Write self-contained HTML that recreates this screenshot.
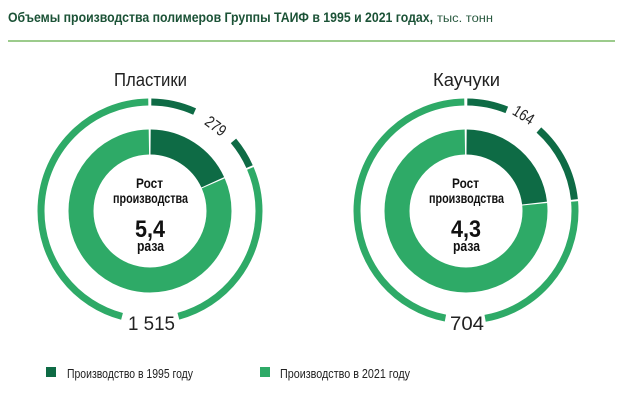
<!DOCTYPE html>
<html><head><meta charset="utf-8"><style>
html,body{margin:0;padding:0;background:#fff;}
body{width:620px;height:400px;overflow:hidden;font-family:"Liberation Sans",sans-serif;}
</style></head><body>
<svg width="620" height="400" viewBox="0 0 620 400" xmlns="http://www.w3.org/2000/svg" font-family="'Liberation Sans',sans-serif">
<text x="8" y="22" font-size="14" font-weight="bold" fill="#1b5236" textLength="425" lengthAdjust="spacingAndGlyphs">Объемы производства полимеров Группы ТАИФ в 1995 и 2021 годах,</text>
<text x="437" y="22" font-size="12" fill="#2a5a40" textLength="56" lengthAdjust="spacingAndGlyphs">тыс. тонн</text>
<rect x="8" y="40" width="607" height="2" fill="#9ccb8c"/>

<text x="114" y="86" font-size="18" fill="#222" textLength="73" lengthAdjust="spacingAndGlyphs">Пластики</text>
<text x="433" y="86" font-size="18" fill="#222" textLength="67" lengthAdjust="spacingAndGlyphs">Каучуки</text>

<g transform="translate(150,211) rotate(-90)" fill="none">
 <circle r="69" stroke="#0e6b45" stroke-width="25" pathLength="360" stroke-dasharray="65 400" stroke-dashoffset="-0.5"/>
 <circle r="69" stroke="#2eaa67" stroke-width="25" pathLength="360" stroke-dasharray="293 400" stroke-dashoffset="-66.5"/>
 <circle r="109" stroke="#0e6b45" stroke-width="7" pathLength="360" stroke-dasharray="23.5 400" stroke-dashoffset="-0.7"/>
 <circle r="109" stroke="#0e6b45" stroke-width="7" pathLength="360" stroke-dasharray="16 400" stroke-dashoffset="-50"/>
 <circle r="109" stroke="#2eaa67" stroke-width="7" pathLength="360" stroke-dasharray="98 400" stroke-dashoffset="-67"/>
 <circle r="109" stroke="#2eaa67" stroke-width="7" pathLength="360" stroke-dasharray="164.3 400" stroke-dashoffset="-195"/>
</g>
<g transform="translate(466,211) rotate(-90)" fill="none">
 <circle r="69" stroke="#0e6b45" stroke-width="25" pathLength="360" stroke-dasharray="83 400" stroke-dashoffset="-0.5"/>
 <circle r="69" stroke="#2eaa67" stroke-width="25" pathLength="360" stroke-dasharray="275 400" stroke-dashoffset="-84.5"/>
 <circle r="109" stroke="#0e6b45" stroke-width="7" pathLength="360" stroke-dasharray="21.3 400" stroke-dashoffset="-0.7"/>
 <circle r="109" stroke="#0e6b45" stroke-width="7" pathLength="360" stroke-dasharray="42 400" stroke-dashoffset="-42"/>
 <circle r="109" stroke="#2eaa67" stroke-width="7" pathLength="360" stroke-dasharray="85 400" stroke-dashoffset="-85"/>
 <circle r="109" stroke="#2eaa67" stroke-width="7" pathLength="360" stroke-dasharray="168.3 400" stroke-dashoffset="-191"/>
</g>

<text transform="translate(215,127) rotate(37)" font-size="16" text-anchor="middle" dominant-baseline="middle" fill="#222" textLength="22" lengthAdjust="spacingAndGlyphs">279</text>
<text transform="translate(523,116) rotate(32)" font-size="16" text-anchor="middle" dominant-baseline="middle" fill="#222" textLength="22" lengthAdjust="spacingAndGlyphs">164</text>
<text x="128" y="330" font-size="19" fill="#222" textLength="47" lengthAdjust="spacingAndGlyphs">1 515</text>
<text x="450" y="330" font-size="19" fill="#222" textLength="34" lengthAdjust="spacingAndGlyphs">704</text>

<g font-weight="bold" fill="#111">
 <text x="136" y="188" font-size="14" textLength="27" lengthAdjust="spacingAndGlyphs">Рост</text>
 <text x="113" y="203" font-size="14" textLength="75" lengthAdjust="spacingAndGlyphs">производства</text>
 <text x="135" y="237" font-size="24" textLength="30" lengthAdjust="spacingAndGlyphs">5,4</text>
 <text x="137" y="251" font-size="15" textLength="27" lengthAdjust="spacingAndGlyphs">раза</text>
 <text x="452" y="188" font-size="14" textLength="27" lengthAdjust="spacingAndGlyphs">Рост</text>
 <text x="429" y="203" font-size="14" textLength="75" lengthAdjust="spacingAndGlyphs">производства</text>
 <text x="451" y="237" font-size="24" textLength="30" lengthAdjust="spacingAndGlyphs">4,3</text>
 <text x="453" y="251" font-size="15" textLength="27" lengthAdjust="spacingAndGlyphs">раза</text>
</g>

<rect x="46" y="367" width="10" height="10" fill="#0e6b45"/>
<text x="67" y="378" font-size="13" fill="#222" textLength="126" lengthAdjust="spacingAndGlyphs">Производство в 1995 году</text>
<rect x="260" y="367" width="10" height="10" fill="#2eaa67"/>
<text x="280" y="378" font-size="13" fill="#222" textLength="130" lengthAdjust="spacingAndGlyphs">Производство в 2021 году</text>
</svg>
</body></html>
